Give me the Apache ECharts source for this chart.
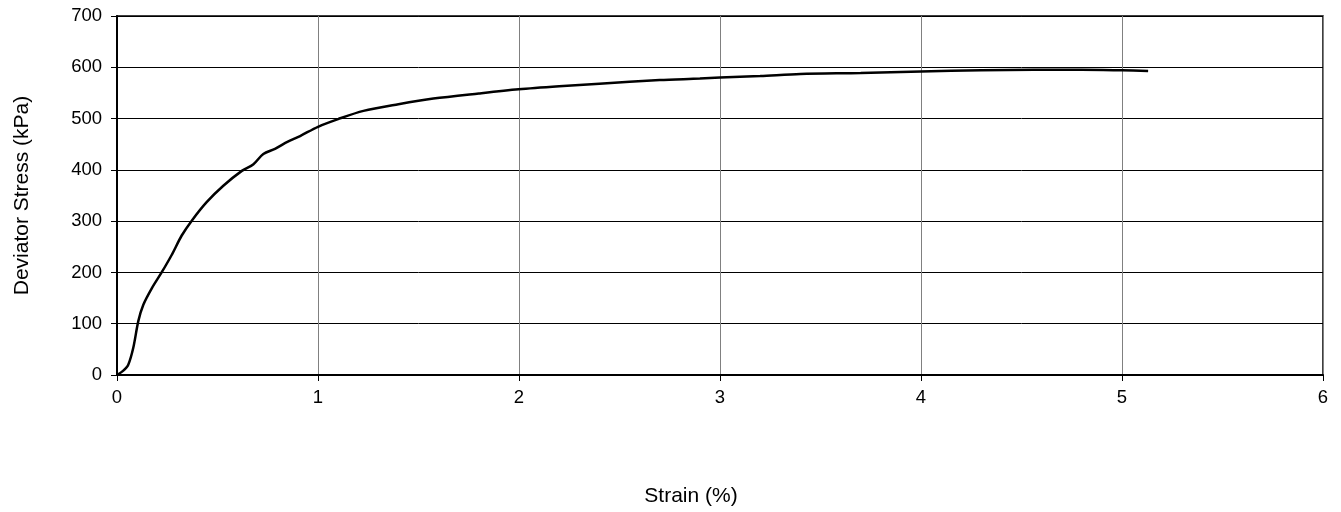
<!DOCTYPE html>
<html>
<head>
<meta charset="utf-8">
<script src="https://cdn.jsdelivr.net/npm/echarts@6/dist/echarts.min.js"></script>
<style>html,body{margin:0;padding:0;background:#fff;}#c{width:1341px;height:512px;}</style>
</head>
<body>
<div id="c"></div>
<script>
const strain = [0, 0.03, 0.056, 0.081, 0.106, 0.131, 0.173, 0.222, 0.272, 0.322, 0.372, 0.446, 0.529, 0.621, 0.679, 0.728, 0.786, 0.85, 0.911, 1.0, 1.1, 1.226, 1.4, 1.574, 1.8, 1.998, 2.2, 2.4, 2.7, 2.9, 3.0, 3.2, 3.4, 3.7, 4.0, 4.3, 4.56, 4.8, 5.0, 5.13];
const stress = [0, 8, 20, 53, 105, 137, 169, 200, 234, 272, 301, 337, 369, 398, 411, 431, 441, 455, 466, 484, 499, 515, 528, 539, 549, 557, 563, 568, 575, 578, 580, 583, 587, 589, 592, 594, 595, 595, 594, 593];
const xTicks = [0, 1, 2, 3, 4, 5, 6];
const yTicks = [0, 100, 200, 300, 400, 500, 600, 700];

const data = strain.map((s, i) => [s, stress[i]]);
const font = 'Liberation Sans, Arial, sans-serif';
const chart = echarts.init(document.getElementById('c'), null, {renderer: 'canvas'});
chart.setOption({
  animation: false,
  backgroundColor: '#fff',
  grid: {left: 117, right: 18, top: 16, bottom: 135, show: true, borderColor: '#000', borderWidth: 1.5, backgroundColor: 'transparent'},
  xAxis: {
    type: 'value', min: xTicks[0], max: xTicks[xTicks.length - 1], interval: 1,
    name: 'Strain (%)', nameLocation: 'middle', nameGap: 111,
    nameTextStyle: {color: '#000', fontFamily: font, fontSize: 21, padding: [0, 58, 0, 0]},
    axisLine: {show: true, lineStyle: {color: '#000', width: 2}},
    axisTick: {show: true, length: 6, lineStyle: {color: '#000', width: 1}},
    axisLabel: {color: '#000', fontFamily: font, fontSize: 18.5, margin: 13},
    splitLine: {show: true, lineStyle: {color: '#808080', width: 1}}
  },
  yAxis: {
    type: 'value', min: yTicks[0], max: yTicks[yTicks.length - 1], interval: 100,
    name: 'Deviator Stress (kPa)', nameLocation: 'middle', nameGap: 84, nameRotate: 90,
    nameTextStyle: {color: '#000', fontFamily: font, fontSize: 21},
    axisLine: {show: true, lineStyle: {color: '#000', width: 2}},
    axisTick: {show: true, length: 6, lineStyle: {color: '#000', width: 1}},
    axisLabel: {color: '#000', fontFamily: font, fontSize: 18.5, margin: 15},
    splitLine: {show: true, lineStyle: {color: '#000', width: 1}}
  },
  series: [{
    type: 'line', data: data, smooth: 0.3, showSymbol: false, symbol: 'none',
    lineStyle: {color: '#000', width: 2.5}
  }]
});
</script>
</body>
</html>
